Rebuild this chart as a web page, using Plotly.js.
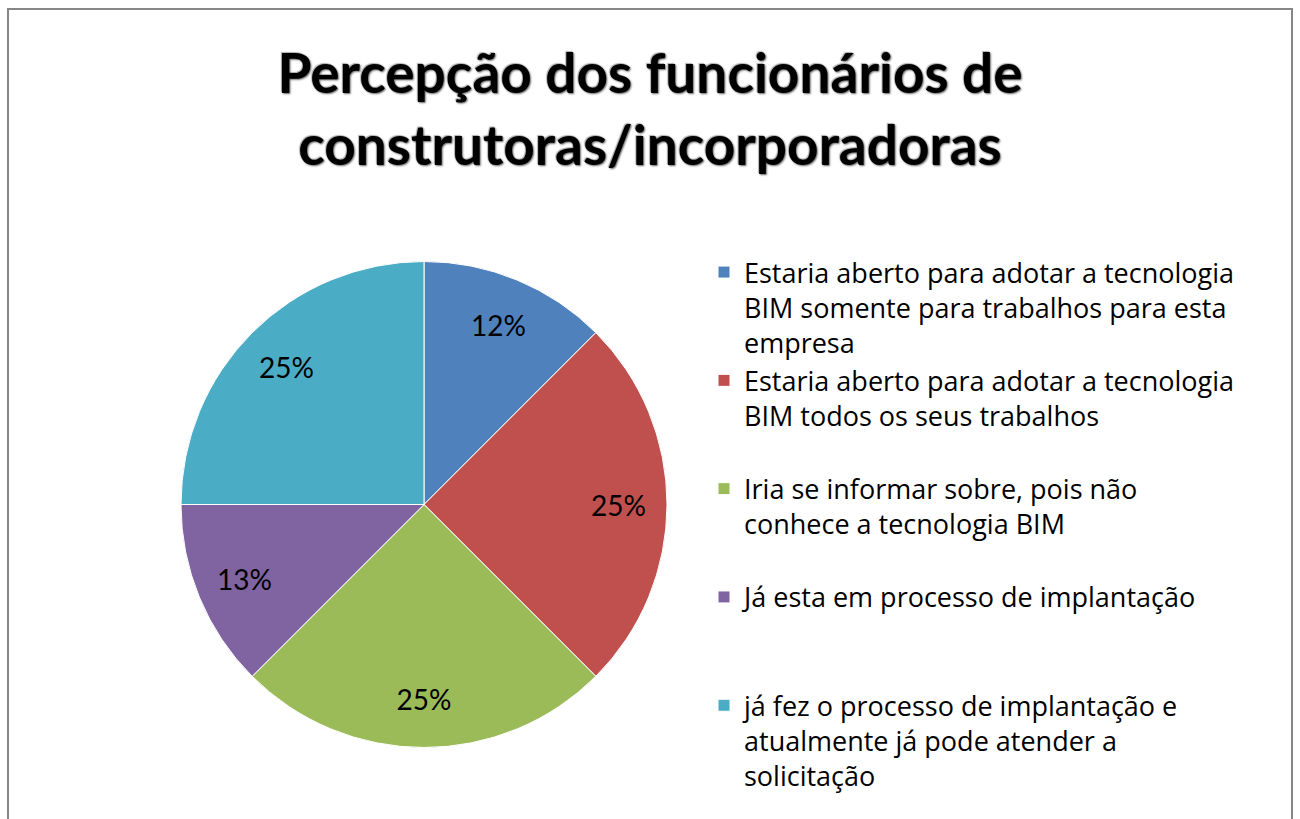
<!DOCTYPE html>
<html>
<head>
<meta charset="utf-8">
<script src="https://cdn.plot.ly/plotly-3.0.1.min.js"></script>
<style>
  html, body { margin: 0; padding: 0; background: #fff; }
  #chart { width: 1300px; height: 819px; }
  .gtitle { text-shadow: 1px 1px 2px rgba(0,0,0,0.6), -1px -1px 1px rgba(0,0,0,0.3); }
</style>
</head>
<body>
<div id="chart"></div>
<script>
// ---- data ----
const categories = [
  "Estaria aberto para adotar a tecnologia<br>BIM somente para trabalhos para esta<br>empresa",
  "Estaria aberto para adotar a tecnologia<br>BIM todos os seus trabalhos<br>\u00a0",
  "Iria se informar sobre, pois não<br>conhece a tecnologia BIM<br>\u00a0",
  "Já esta em processo de implantação<br>\u00a0<br>\u00a0",
  "já fez o processo de implantação e<br>atualmente já pode atender a<br>solicitação"
];
const shares = [12.5, 25, 25, 12.5, 25];
const shareLabels = ["12%", "25%", "25%", "13%", "25%"];
const colors = ["#4F81BD", "#C0504D", "#9BBB59", "#8064A2", "#4BACC6"];
const chartTitle = "Percepção dos funcionários de<br>construtoras/incorporadoras";

const W = 1300, H = 819;
const pieDomain = { x: [181 / W, 667 / W], y: [1 - 748 / H, 1 - 261 / H] };

// filled slices (legend comes from this trace)
const slices = {
  type: "pie",
  labels: categories,
  values: shares,
  textinfo: "none",
  sort: false,
  direction: "clockwise",
  rotation: 0,
  marker: { colors: colors, line: { color: "#ffffff", width: 1 } },
  domain: pieDomain,
  hoverinfo: "label+percent"
};

// transparent ring on top that carries the percentage labels further out
const labelRing = {
  type: "pie",
  labels: categories,
  values: shares,
  text: shareLabels,
  textinfo: "text",
  texttemplate: "%{text}",
  textposition: "inside",
  insidetextorientation: "horizontal",
  hole: 0.6,
  sort: false,
  direction: "clockwise",
  rotation: 0,
  showlegend: false,
  marker: { colors: colors.map(() => "rgba(0,0,0,0)"), line: { width: 0 } },
  insidetextfont: { family: "Lato, 'Open Sans', sans-serif", size: 28, color: "#000000" },
  domain: pieDomain,
  hoverinfo: "skip"
};

const layout = {
  width: W, height: H,
  margin: { l: 0, r: 0, t: 0, b: 0, autoexpand: false },
  paper_bgcolor: "#ffffff",
  plot_bgcolor: "#ffffff",
  title: {
    text: chartTitle,
    font: { family: "Lato, 'Open Sans', sans-serif", size: 55, color: "#000000", weight: "bold" },
    x: 0.5, xanchor: "center",
    y: 1 - 93 / H, yanchor: "top"
  },
  showlegend: true,
  legend: {
    x: 704 / W, xanchor: "left",
    y: 1 - 248 / H, yanchor: "top",
    valign: "top",
    font: { family: "'Open Sans', Lato, sans-serif", size: 27, color: "#000000" },
    bgcolor: "rgba(0,0,0,0)",
    traceorder: "normal"
  },
  shapes: [{
    type: "rect", xref: "paper", yref: "paper",
    x0: 8 / W, x1: 1292 / W, y0: -0.05, y1: 1 - 9 / H,
    line: { color: "#868686", width: 2 }, fillcolor: "rgba(0,0,0,0)", layer: "below"
  }]
};

Plotly.newPlot("chart", [slices, labelRing], layout, { displayModeBar: false, staticPlot: true });
</script>
</body>
</html>
